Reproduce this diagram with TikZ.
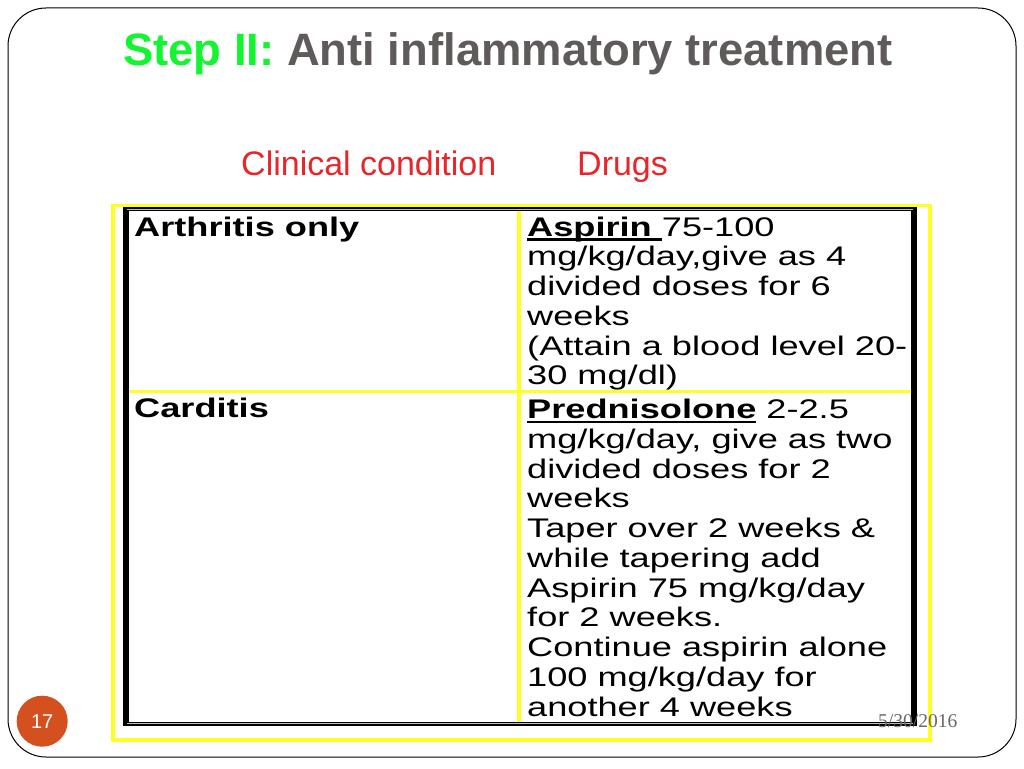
\documentclass[tikz,border=0pt]{standalone}
\usepackage{fontspec}
\setmainfont{Liberation Sans}
\newfontfamily\widefont[FakeStretch=1.345]{Liberation Sans}
\newfontfamily\datefont{Liberation Serif}
\definecolor{stepgreen}{HTML}{14F532}
\definecolor{titlegray}{HTML}{5F5B5B}
\definecolor{headred}{HTML}{E8262A}
\definecolor{frameyellow}{HTML}{FFFF22}
\definecolor{badge}{HTML}{D4501E}
\definecolor{dategray}{HTML}{6A6666}
\newcommand{\thickul}[1]{\setbox0=\hbox{#1}\rlap{\raisebox{-4.6pt}{\rule{\wd0}{2.4pt}}}\box0 }
\tikzset{
  x=1pt,y=-1pt,
  headtext/.style={anchor=base west,inner sep=0pt,text=headred,font=\fontsize{34}{34}\selectfont},
  celltext/.style={anchor=base west,inner sep=0pt,align=left,font=\widefont\fontsize{26.9}{29.75}\selectfont},
  yellowline/.style={draw=frameyellow,line width=3.6pt}
}
\begin{document}
\begin{tikzpicture}
\useasboundingbox (0,0) rectangle (1024,768);
\fill[white] (0,0) rectangle (1024,768);
\draw[black,line width=1pt,rounded corners=38pt] (8,8) rectangle (1016,757);
\node[anchor=base west,inner sep=0pt,font=\bfseries\fontsize{45.4}{45.4}\selectfont] (title) at (123,66) {\textcolor{stepgreen}{Step II:} \textcolor{titlegray}{Anti inflammatory treatment}};
\node[headtext] (clin) at (241,175) {Clinical condition};
\node[headtext] (drugs) at (577,175) {Drugs};
% frames
\draw[yellowline] (113,205.3) rectangle (930,740);
\fill[black] (123,207) rectangle (916.5,725.5);
\fill[white] (128.5,211) rectangle (911,721.5);
\draw[white!75!black,line width=0.8pt] (127,209) -- (913,209);
\draw[white!75!black,line width=0.8pt] (127,723.6) -- (913,723.6);
\draw[draw=frameyellow,line width=3pt] (129,391) -- (911,391);
\draw[draw=frameyellow,line width=4pt] (518.5,211) -- (518.5,721.5);
% cells
\node[celltext] (c1) at (134,236) {\textbf{Arthritis only}};
\node[celltext,anchor=north west] (d1) at (527,216.5) {\textbf{\thickul{Aspirin\ }}75-100\\mg/kg/day,give as 4\\divided doses for 6\\weeks\\(Attain a blood level 20-\\30 mg/dl)};
\node[celltext] (c2) at (134,417) {\textbf{Carditis}};
\node[celltext,anchor=north west] (d2) at (527,399) {\textbf{\thickul{Prednisolone}}\ 2-2.5\\mg/kg/day, give as two\\divided doses for 2\\weeks\\Taper over 2 weeks \&\\while tapering add\\Aspirin 75 mg/kg/day\\for 2 weeks.\\Continue aspirin alone\\100 mg/kg/day for\\another 4 weeks};
% footer
\node[circle,fill=badge,minimum size=51pt,inner sep=0pt,text=white,font=\fontsize{20}{20}\selectfont] (num) at (42.2,721.2) {17};
\node[anchor=base west,inner sep=0pt,text=dategray,font=\datefont\fontsize{19.5}{19.5}\selectfont] (date) at (878,727.5) {5/30/2016};
\end{tikzpicture}
\end{document}
